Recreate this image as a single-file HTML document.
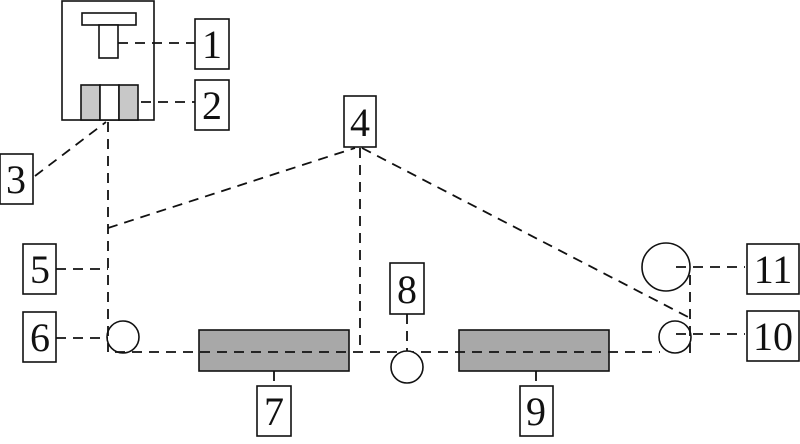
<!DOCTYPE html>
<html><head><style>body{margin:0;background:#fff}text{font-family:"Liberation Serif",serif}</style></head><body>
<svg width="800" height="439" viewBox="0 0 800 439" xmlns="http://www.w3.org/2000/svg" font-size="40">
<g stroke="#111" stroke-width="1.6" fill="#fff">
<rect x="199" y="330" width="150" height="41" fill="#a8a8a8"/>
<rect x="459" y="330" width="150" height="41" fill="#a8a8a8"/>
</g>
<g fill="none" stroke="#111" stroke-width="1.8" stroke-dasharray="10,7">
<line x1="118" y1="43" x2="195" y2="43"/>
<line x1="124" y1="102" x2="195" y2="102"/>
<line x1="35" y1="176" x2="106" y2="122"/>
<line x1="108" y1="122" x2="108" y2="352"/>
<line x1="108" y1="228" x2="355" y2="148"/>
<line x1="360" y1="148" x2="360" y2="352"/>
<line x1="362" y1="148" x2="690" y2="318"/>
<line x1="56" y1="269" x2="108" y2="269"/>
<line x1="56" y1="338" x2="108" y2="338"/>
<line x1="115" y1="352" x2="660" y2="352"/>
<line x1="274" y1="371" x2="274" y2="386"/>
<line x1="407" y1="314" x2="407" y2="351"/>
<line x1="536" y1="371" x2="536" y2="386"/>
<line x1="690" y1="275" x2="690" y2="353"/>
<line x1="676" y1="267" x2="745" y2="267"/>
<line x1="676" y1="334" x2="745" y2="334"/>
</g>
<g stroke="#111" stroke-width="1.6" fill="#fff">
<rect x="62" y="1" width="92" height="119" fill="none"/>
<rect x="82" y="13" width="54" height="12"/>
<rect x="99" y="25" width="19" height="33"/>
<rect x="81" y="85" width="19" height="35" fill="#c8c8c8"/>
<rect x="100" y="85" width="19" height="35"/>
<rect x="119" y="85" width="19" height="35" fill="#c8c8c8"/>
<circle cx="123" cy="337" r="16" fill="none"/>
<circle cx="407" cy="367" r="16"/>
<circle cx="675" cy="337" r="16" fill="none"/>
<circle cx="666" cy="267" r="24" fill="none"/>
<rect x="195" y="19" width="34" height="50"/>
<rect x="195" y="80" width="34" height="50"/>
<rect x="0" y="154" width="33" height="50"/>
<rect x="344" y="96" width="32" height="51"/>
<rect x="23" y="244" width="33" height="50"/>
<rect x="23" y="312" width="33" height="50"/>
<rect x="257" y="386" width="34" height="50"/>
<rect x="390" y="263" width="34" height="51"/>
<rect x="520" y="386" width="33" height="50"/>
<rect x="747" y="244" width="52" height="50"/>
<rect x="747" y="311" width="52" height="50"/>
</g>
<g fill="#111" text-anchor="middle">
<text x="212" y="58">1</text>
<text x="212" y="119">2</text>
<text x="16" y="193">3</text>
<text x="360" y="136">4</text>
<text x="40" y="283">5</text>
<text x="40" y="351">6</text>
<text x="274" y="425">7</text>
<text x="407" y="303">8</text>
<text x="536" y="425">9</text>
<text x="773" y="283">11</text>
<text x="773" y="350">10</text>
</g>
</svg>
</body></html>
